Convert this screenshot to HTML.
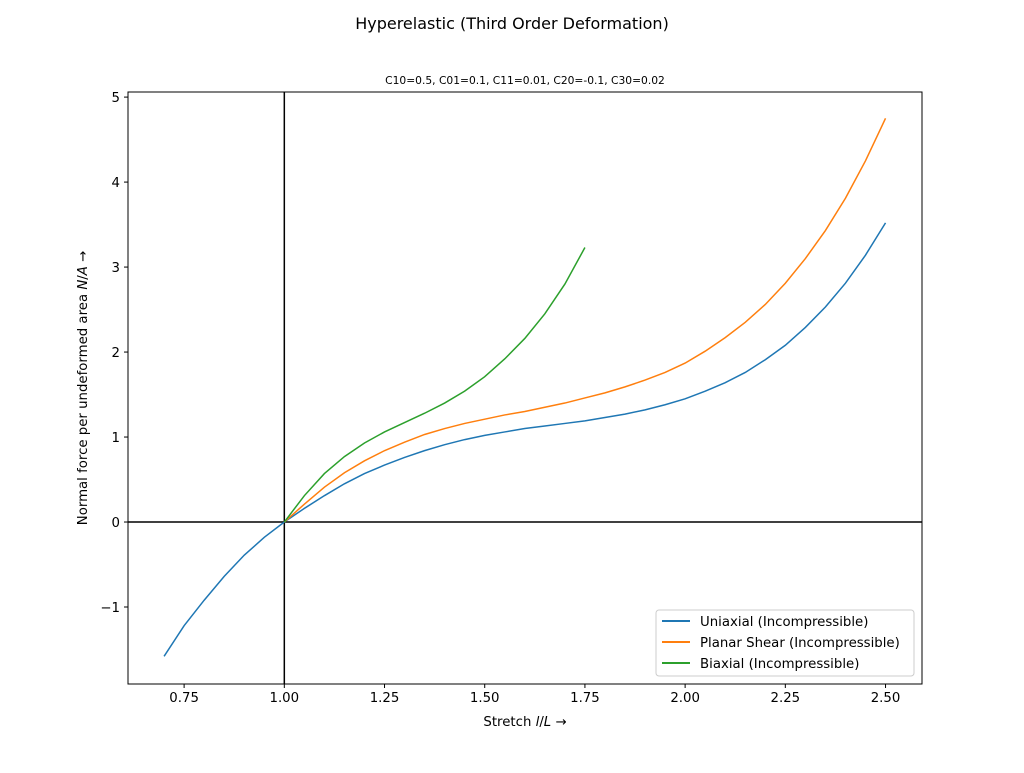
<!DOCTYPE html>
<html><head><meta charset="utf-8"><style>
body{margin:0;background:#fff;}
svg text{font-family:"DejaVu Sans","Liberation Sans",sans-serif;}
</style></head><body>
<svg id="chart" width="1024" height="768" xmlns="http://www.w3.org/2000/svg">
<rect width="1024" height="768" fill="#fff"/>
<text x="512" y="29" font-size="16" text-anchor="middle">Hyperelastic (Third Order Deformation)</text>
<text x="525" y="84" font-size="10.7" text-anchor="middle">C10=0.5, C01=0.1, C11=0.01, C20=-0.1, C30=0.02</text>
<g id="ticks"></g>
<g id="marks"></g>
<rect x="128" y="92" width="794" height="592" fill="none" stroke="#000" stroke-width="1"/>
<text x="525" y="726" font-size="13.3" text-anchor="middle">Stretch <tspan font-style="italic">l</tspan>/<tspan font-style="italic">L</tspan>  →</text>
<text x="0" y="0" font-size="13.3" text-anchor="middle" transform="translate(87,388) rotate(-90)">Normal force per undeformed area <tspan font-style="italic">N</tspan>/<tspan font-style="italic">A</tspan>  →</text>
<g>
<rect x="656" y="610" width="258" height="66" rx="3" fill="#fff" fill-opacity="0.8" stroke="#ccc"/>
<line x1="662" y1="621" x2="690" y2="621" stroke="#1f77b4" stroke-width="2"/>
<text x="700" y="626" font-size="13.3">Uniaxial (Incompressible)</text>
<line x1="662" y1="642" x2="690" y2="642" stroke="#ff7f0e" stroke-width="2"/>
<text x="700" y="647" font-size="13.3">Planar Shear (Incompressible)</text>
<line x1="662" y1="663" x2="690" y2="663" stroke="#2ca02c" stroke-width="2"/>
<text x="700" y="668" font-size="13.3">Biaxial (Incompressible)</text>
</g>
</svg>
<script>
const uniX=[0.7,0.75,0.8,0.85,0.9,0.95,1.0,1.05,1.1,1.15,1.2,1.25,1.3,1.35,1.4,1.45,1.5,1.55,1.6,1.65,1.7,1.75,1.8,1.85,1.9,1.95,2.0,2.05,2.1,2.15,2.2,2.25,2.3,2.35,2.4,2.45,2.5];
const uniY=[-1.58,-1.22,-0.92,-0.64,-0.39,-0.18,0,0.16,0.31,0.45,0.57,0.67,0.76,0.84,0.91,0.97,1.02,1.06,1.10,1.13,1.16,1.19,1.23,1.27,1.32,1.38,1.45,1.54,1.64,1.76,1.91,2.08,2.29,2.53,2.81,3.14,3.52];
const plaX=[1.0,1.05,1.1,1.15,1.2,1.25,1.3,1.35,1.4,1.45,1.5,1.55,1.6,1.65,1.7,1.75,1.8,1.85,1.9,1.95,2.0,2.05,2.1,2.15,2.2,2.25,2.3,2.35,2.4,2.45,2.5];
const plaY=[0,0.21,0.41,0.58,0.72,0.84,0.94,1.03,1.10,1.16,1.21,1.26,1.30,1.35,1.40,1.46,1.52,1.59,1.67,1.76,1.87,2.01,2.17,2.35,2.56,2.81,3.10,3.43,3.81,4.25,4.75];
const biaX=[1.0,1.05,1.1,1.15,1.2,1.25,1.3,1.35,1.4,1.45,1.5,1.55,1.6,1.65,1.7,1.75];
const biaY=[0,0.31,0.57,0.77,0.93,1.06,1.17,1.28,1.40,1.54,1.71,1.92,2.16,2.45,2.80,3.23];
const xTicks=[0.75,1.0,1.25,1.5,1.75,2.0,2.25,2.5];
const xTickLabels=["0.75","1.00","1.25","1.50","1.75","2.00","2.25","2.50"];
const yTicks=[-1,0,1,2,3,4,5];
const yTickLabels=["\u22121","0","1","2","3","4","5"];

const X0=128,X1=922,Y0=92,Y1=684;
const xmin=0.61,xmax=2.591,ymin=-1.906,ymax=5.06;
const sx=v=>X0+(v-xmin)/(xmax-xmin)*(X1-X0);
const sy=v=>Y1-(v-ymin)/(ymax-ymin)*(Y1-Y0);
const NS="http://www.w3.org/2000/svg";
const tg=document.getElementById('ticks'), mg=document.getElementById('marks');
function mk(tag,attrs,parent){const e=document.createElementNS(NS,tag);for(const k in attrs)e.setAttribute(k,attrs[k]);parent.appendChild(e);return e;}
xTicks.forEach((t,i)=>{
  const l=mk('line',{x1:sx(t),x2:sx(t),y1:Y1,y2:Y1+4,stroke:'#000'},tg);
  
  
  const tx=mk('text',{x:sx(t),y:Y1+18,'font-size':13.3,'text-anchor':'middle'},tg);tx.textContent=xTickLabels[i];
  
  
});
yTicks.forEach((t,i)=>{
  const l=mk('line',{x1:X0-4,x2:X0,y1:sy(t),y2:sy(t),stroke:'#000'},tg);
  
  
  const tx=mk('text',{x:X0-8,y:sy(t)+5,'font-size':13.3,'text-anchor':'end'},tg);tx.textContent=yTickLabels[i];
  
  
});
const vl=mk('line',{x1:sx(1),x2:sx(1),y1:Y0,y2:Y1,stroke:'#000','stroke-width':1.5},mg);


const hl=mk('line',{x1:X0,x2:X1,y1:sy(0),y2:sy(0),stroke:'#000','stroke-width':1.5},mg);


function series(xs,ys,color,name){
  const p=mk('polyline',{points:xs.map((x,i)=>sx(x)+','+sy(ys[i])).join(' '),fill:'none',stroke:color,'stroke-width':1.5},mg);
  
  
}
series(uniX,uniY,'#1f77b4','uniaxial-line');
series(plaX,plaY,'#ff7f0e','planar-shear-line');
series(biaX,biaY,'#2ca02c','biaxial-line');
</script>
</body></html>
